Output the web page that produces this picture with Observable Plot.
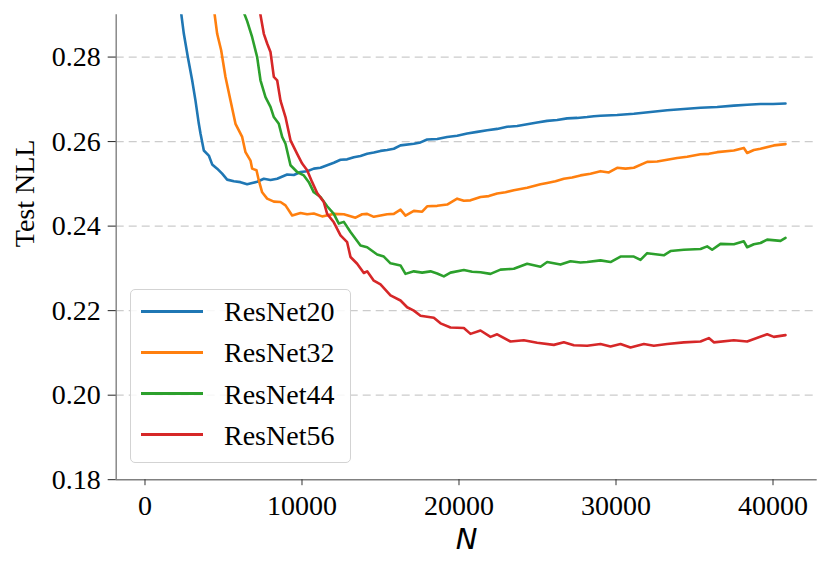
<!DOCTYPE html>
<html>
<head>
<meta charset="utf-8">
<script src="https://cdn.jsdelivr.net/npm/d3@7"></script>
<script src="https://cdn.jsdelivr.net/npm/@observablehq/plot@0.6"></script>
<style>
  html, body { margin: 0; padding: 0; background: white; }
  #wrap { position: relative; width: 831px; height: 570px; }
  #legend { position: absolute; left: 130px; top: 289px; width: 219px; height: 172px;
    border: 1.5px solid #d3d3d3; border-radius: 5px; background: rgba(255,255,255,0.85);
    font-family: 'Liberation Serif', 'Times New Roman', serif; font-size: 28px; }
  .sw { position: absolute; left: 10px; width: 62px; height: 3px; }
  .lt { position: absolute; left: 93px; line-height: 28px; white-space: nowrap; color: #000; }
</style>
</head>
<body>
<div id="wrap"></div>
<script>
const models = ["ResNet20", "ResNet32", "ResNet44", "ResNet56"];
const colors = ["#1f77b4", "#ff7f0e", "#2ca02c", "#d62728"];
const yTicks = [0.18, 0.20, 0.22, 0.24, 0.26, 0.28];
const gridTicks = [0.20, 0.22, 0.24, 0.26, 0.28];
const xTicks = [0, 10000, 20000, 30000, 40000];

const n20 = [2300,2474,2728,3004,3216,3429,3535,3747,4065,4278,4597,4915,5233,5658,6082,6507,6826,7144,7569,7993,8418,9055,9480,9904,10329,10753,11178,11602,12027,12452,12876,13301,13725,14150,14575,14999,15424,15848,16273,17123,17547,17972,18609,19246,19883,20520,21157,21794,22431,23067,23704,24341,24978,25615,26252,26889,27526,28163,28588,29013,30074,31136,32198,33259,34320,35382,36443,37505,38354,39203,40000,40796];
const nll20 = [0.2905,0.2855,0.2800,0.2745,0.2697,0.2642,0.2619,0.2579,0.2567,0.2546,0.2536,0.2524,0.2510,0.2506,0.2504,0.2499,0.2502,0.2505,0.2512,0.2509,0.2512,0.2522,0.2521,0.2528,0.2530,0.2536,0.2538,0.2544,0.2550,0.2557,0.2558,0.2563,0.2566,0.2571,0.2574,0.2578,0.2580,0.2583,0.2591,0.2595,0.2598,0.2605,0.2606,0.2611,0.2614,0.2619,0.2623,0.2627,0.2630,0.2635,0.2637,0.2641,0.2645,0.2649,0.2651,0.2655,0.2656,0.2658,0.2660,0.2661,0.2663,0.2666,0.2670,0.2674,0.2677,0.2680,0.2682,0.2685,0.2687,0.2689,0.2689,0.2690];

const n32 = [4420,4597,4851,5127,5446,5764,6189,6401,6720,6826,7102,7250,7462,7781,8206,8630,8949,9373,9904,10329,10753,11284,12027,12664,13407,13831,14150,14575,15000,15424,15849,16274,16592,17123,17654,17972,18609,19246,19883,20308,20732,21369,21900,22431,22962,23492,24341,25191,25615,26146,26677,27207,27738,28375,29013,29544,30074,30605,31136,31985,32622,33259,33896,34533,35382,35912,36443,37505,38142,38354,38779,39203,40053,40796];
const nll32 = [0.2905,0.2855,0.2816,0.2753,0.2697,0.2642,0.2611,0.2575,0.2555,0.2536,0.2532,0.2508,0.2480,0.2465,0.2458,0.2457,0.2449,0.2425,0.2431,0.2428,0.2430,0.2423,0.2429,0.2428,0.2420,0.2428,0.2429,0.2422,0.2425,0.2428,0.2429,0.2439,0.2425,0.2436,0.2434,0.2447,0.2448,0.2451,0.2465,0.2460,0.2461,0.2469,0.2471,0.2477,0.2480,0.2485,0.2491,0.2499,0.2502,0.2506,0.2512,0.2515,0.2520,0.2524,0.2530,0.2527,0.2538,0.2536,0.2538,0.2552,0.2553,0.2557,0.2561,0.2564,0.2570,0.2571,0.2575,0.2579,0.2585,0.2573,0.2580,0.2583,0.2591,0.2594];

const n44 = [6300,6507,6826,7144,7356,7675,7993,8206,8524,8736,8949,9267,9692,10116,10435,10753,11178,11602,12027,12345,12664,13089,13725,14150,14787,15211,15637,16274,16592,17123,17654,18185,18609,19034,19458,20308,20838,21369,22006,22643,23492,24341,25191,25615,26464,27101,27738,28163,29013,29650,30287,31136,31560,31985,33046,33471,34320,35382,35806,36124,36656,37505,38142,38354,38779,39203,39628,40477,40796];
const nll44 = [0.2905,0.2885,0.2847,0.2800,0.2745,0.2705,0.2682,0.2658,0.2642,0.2611,0.2595,0.2544,0.2528,0.2520,0.2504,0.2480,0.2469,0.2447,0.2429,0.2406,0.2410,0.2386,0.2354,0.2350,0.2333,0.2328,0.2312,0.2307,0.2287,0.2293,0.2290,0.2293,0.2288,0.2281,0.2290,0.2296,0.2292,0.2291,0.2287,0.2297,0.2299,0.2311,0.2304,0.2315,0.2309,0.2317,0.2314,0.2315,0.2319,0.2315,0.2328,0.2328,0.2320,0.2336,0.2331,0.2341,0.2344,0.2346,0.2352,0.2344,0.2358,0.2357,0.2364,0.2350,0.2357,0.2360,0.2368,0.2365,0.2372];

const n56 = [7330,7569,7781,7993,8206,8418,8630,8949,9267,9692,10010,10329,10647,10966,11390,11602,12027,12452,12876,13089,13513,13938,14150,14575,15000,15637,16274,16698,17123,17547,18397,18822,19458,20308,20732,21369,22006,22431,23280,24129,24978,26040,26677,27314,28163,29013,29650,30287,30923,31773,32410,33259,34320,35382,35912,36231,37505,38354,39628,40053,40796];
const nll56 = [0.2905,0.2855,0.2832,0.2812,0.2753,0.2745,0.2697,0.2658,0.2603,0.2571,0.2548,0.2532,0.2504,0.2478,0.2457,0.2429,0.2409,0.2378,0.2362,0.2327,0.2311,0.2289,0.2293,0.2271,0.2262,0.2236,0.2224,0.2208,0.2200,0.2188,0.2183,0.2170,0.2160,0.2159,0.2145,0.2153,0.2138,0.2144,0.2127,0.2130,0.2124,0.2119,0.2125,0.2118,0.2117,0.2121,0.2115,0.2121,0.2113,0.2121,0.2117,0.2121,0.2125,0.2127,0.2135,0.2125,0.2130,0.2127,0.2144,0.2138,0.2142];

const seriesN = [n20, n32, n44, n56];
const seriesV = [nll20, nll32, nll44, nll56];
const data = [];
models.forEach((m, i) => seriesN[i].forEach((n, j) => data.push({model: m, N: n, nll: seriesV[i][j]})));

const xDomain = [-1834, 42815];
const yDomain = [0.18, 0.29];
const serif = "Liberation Serif";

const chart = Plot.plot({
  width: 831,
  height: 570,
  marginLeft: 115.7,
  marginRight: 14.3,
  marginTop: 14.3,
  marginBottom: 90.8,
  style: {fontFamily: serif, fontSize: "28px", background: "white", color: "black", overflow: "visible"},
  x: {domain: xDomain},
  y: {domain: yDomain},
  color: {domain: models, range: colors},
  marks: [
    Plot.ruleY(gridTicks, {stroke: "#cccccc", strokeWidth: 1.3, strokeDasharray: "8,5"}),
    Plot.line(data, {x: "N", y: "nll", z: "model", stroke: "model", strokeWidth: 2.6, clip: true}),
    Plot.ruleX([xDomain[0]], {stroke: "#808080", strokeWidth: 1.4}),
    Plot.ruleY([yDomain[0]], {stroke: "#808080", strokeWidth: 1.4}),
    Plot.axisY(yTicks, {tickSize: 8, stroke: "#222", tickFormat: () => "", label: null}),
    Plot.axisX(xTicks, {tickSize: 6, stroke: "#333", tickFormat: () => "", label: null}),
    Plot.text(yTicks, {y: d => d, frameAnchor: "left", dx: -15.5, textAnchor: "end", lineAnchor: "middle",
      text: d => d.toFixed(2), fontSize: 28, fill: "black", fontFamily: serif, fontVariant: "normal"}),
    Plot.text(xTicks, {x: d => d, frameAnchor: "bottom", dy: 26.5, textAnchor: "middle", lineAnchor: "middle",
      text: d => String(d), fontSize: 28, fill: "black", fontFamily: serif, fontVariant: "normal"}),
    Plot.text(["Test NLL"], {frameAnchor: "left", dx: -90.7, rotate: -90, fontSize: 28, fill: "black", fontFamily: serif}),
    Plot.text(["N"], {frameAnchor: "bottom", dy: 69, fontSize: 29, fill: "black", fontFamily: "DejaVu Sans", fontStyle: "italic"})
  ]
});

const wrap = document.getElementById("wrap");
wrap.appendChild(chart);

const legend = document.createElement("div");
legend.id = "legend";
const rowsY = [311.7, 352.7, 394.3, 435.3];
models.forEach((m, i) => {
  const sw = document.createElement("div");
  sw.className = "sw";
  sw.style.background = colors[i];
  sw.style.top = (rowsY[i] - 289 - 1.5 - 1.5) + "px";
  legend.appendChild(sw);
  const t = document.createElement("div");
  t.className = "lt";
  t.textContent = m;
  t.style.top = (rowsY[i] - 289 - 14 - 0.5) + "px";
  legend.appendChild(t);
});
wrap.appendChild(legend);
</script>
</body>
</html>
